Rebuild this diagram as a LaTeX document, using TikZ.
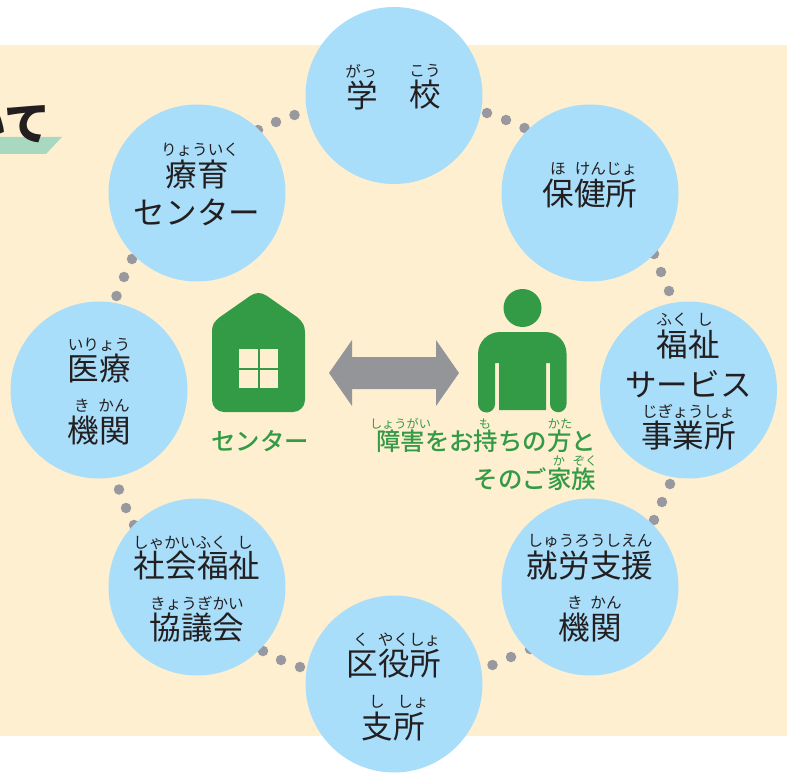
\documentclass[tikz,border=0pt]{standalone}
\usepackage{fontspec}
\setmainfont{Noto Sans CJK JP}
\newfontfamily\greenfont{Noto Sans CJK JP Medium}
\newfontfamily\titlefont{Noto Sans CJK JP Black}
\definecolor{cream}{HTML}{FEEFD0}
\definecolor{sky}{HTML}{A9DEFA}
\definecolor{leaf}{HTML}{339A46}
\definecolor{mint}{HTML}{A8D9C0}
\definecolor{dotgray}{HTML}{98989F}
\definecolor{arrowgray}{HTML}{939598}
\definecolor{ink}{HTML}{231F20}
\tikzset{
  hub/.style={circle,fill=sky,minimum size=177,inner sep=0,draw=none},
  linkdot/.style={circle,fill=dotgray,minimum size=10.5,inner sep=0,draw=none},
  big/.style={inner sep=0,text=ink,font=\fontsize{31.6}{32}\selectfont},
  ruby/.style={inner sep=0,text=ink,font=\fontsize{15.6}{16}\selectfont},
  gbig/.style={inner sep=0,text=leaf,font=\fontsize{24.4}{24}\greenfont},
  gruby/.style={inner sep=0,text=leaf,font=\fontsize{12.2}{12}\selectfont},
}
\begin{document}
\begin{tikzpicture}[x=1pt,y=-1pt]
\useasboundingbox (0,0) rectangle (787,773);
\clip (0,0) rectangle (787,773);
\fill[cream] (0,45) rectangle (787,736);
\fill[mint] (0,137) -- (62,137) -- (46,154) -- (0,154) -- cycle;
\node[anchor=east,inner sep=0,text=ink,font=\fontsize{46}{46}\titlefont] (title) at (51,124) {いて};
% dots
\foreach \n/\x/\y in {a1/294.5/115,a2/276/122,a3/258/130,b1/132/259,b2/124/277,b3/116.5/296,
  c1/119/489.5,c2/126/508,c3/134/525,d1/263/651,d2/281/660,d3/300/667,
  e1/492.5/665,e2/511/657,e3/530/649,f1/654/520,f2/662/502,f3/670/484,
  g1/654/254,g2/661/272,g3/669/291,h1/487/113,h2/506/120,h3/524.5/128}
  \node[linkdot] (\n) at (\x,\y) {};
% circles
\node[hub] (gakko) at (394,95.5) {};
\node[hub] (hoken) at (590,193) {};
\node[hub] (fukushi) at (688.5,390) {};
\node[hub] (shuro) at (590,587) {};
\node[hub] (kuyaku) at (394,684) {};
\node[hub] (shakai) at (197,587) {};
\node[hub] (iryo) at (99,390) {};
\node[hub] (ryoiku) at (197,193) {};
% text
\node[big] (t1a) at (362,95) {学};
\node[big] (t1b) at (425,95) {校};
\node[ruby] (r1a) at (361,71) {がっ};
\node[ruby] (r1b) at (425,71) {こう};
\node[big] (t2) at (590,194) {保健所};
\node[ruby] (r2a) at (558,169) {ほ};
\node[ruby] (r2b) at (606,169) {けんじょ};
\node[big] (t3a) at (688.5,344) {福祉};
\node[ruby] (r3a) at (672,320) {ふく};
\node[ruby] (r3b) at (705,320) {し};
\node[big] (t3b) at (688.5,384) {サービス};
\node[ruby] (r3c) at (688.5,411) {じぎょうしょ};
\node[big] (t3c) at (688.5,436) {事業所};
\node[big] (t4a) at (590,566) {就労支援};
\node[ruby] (r4a) at (590,541) {しゅうろうしえん};
\node[big] (t4b) at (590,628) {機関};
\node[ruby] (r4b) at (575,603) {き};
\node[ruby] (r4c) at (606,603) {かん};
\node[big] (t5a) at (394,664) {区役所};
\node[ruby] (r5a) at (361,640) {く};
\node[ruby] (r5b) at (409,640) {やくしょ};
\node[big] (t5b) at (393,727) {支所};
\node[ruby] (r5c) at (377,702) {し};
\node[ruby] (r5d) at (413,702) {しょ};
\node[big] (t6a) at (197,566) {社会福祉};
\node[ruby] (r6a) at (180,543) {しゃかいふく};
\node[ruby] (r6b) at (245,543) {し};
\node[big] (t6b) at (197,628) {協議会};
\node[ruby] (r6c) at (197,603) {きょうぎかい};
\node[big] (t7a) at (99,369) {医療};
\node[ruby] (r7a) at (99,345) {いりょう};
\node[big] (t7b) at (99,431) {機関};
\node[ruby] (r7b) at (82,406) {き};
\node[ruby] (r7c) at (114,406) {かん};
\node[big] (t8a) at (197,174) {療育};
\node[ruby] (r8a) at (200,150) {りょういく};
\node[big] (t8b) at (197,212) {センター};
% house
\fill[leaf] (224,412) arc[start angle=90,end angle=180,radius=12] -- (212,333)
  .. controls (212,324) and (214,322) .. (220,317) -- (250,296)
  .. controls (256,292) and (261,292) .. (267,296) -- (297,317)
  .. controls (303,322) and (305,326) .. (305,333) -- (305,400)
  arc[start angle=0,end angle=90,radius=12] -- cycle;
\fill[cream] (239,349) rectangle (257.5,367.5);
\fill[cream] (260,349) rectangle (278,367.5);
\fill[cream] (239,370) rectangle (257.5,388);
\fill[cream] (260,370) rectangle (278,388);
% arrow
\fill[arrowgray] (329,373) -- (352,340) -- (352,357) -- (436,357) -- (436,340) -- (459,373)
  -- (436,406) -- (436,389) -- (352,389) -- (352,406) -- cycle;
% person
\fill[leaf] (522.5,308) circle[radius=19];
\fill[leaf] (478,404) -- (478,354) arc[start angle=180,end angle=270,radius=22] -- (545,332)
  arc[start angle=-90,end angle=0,radius=21.5] -- (566.5,404)
  arc[start angle=0,end angle=180,radius=8.25] -- (550,363) -- (546,363) -- (546,410)
  -- (499,410) -- (499,363) -- (495,363) -- (495,404)
  arc[start angle=0,end angle=180,radius=8.5] -- cycle;
% green labels
\node[gbig] (cen) at (260,441) {センター};
\node[gbig,anchor=east] (pa) at (596,441) {障害をお持ちの方と};
\node[gbig,anchor=east] (pb) at (596,479) {そのご家族};
\node[gruby] (g1) at (400.5,424) {しょうがい};
\node[gruby] (g2) at (485,424) {も};
\node[gruby] (g3) at (560,424) {かた};
\node[gruby] (g4) at (559,461) {か};
\node[gruby] (g5) at (585,461) {ぞく};
\end{tikzpicture}
\end{document}
